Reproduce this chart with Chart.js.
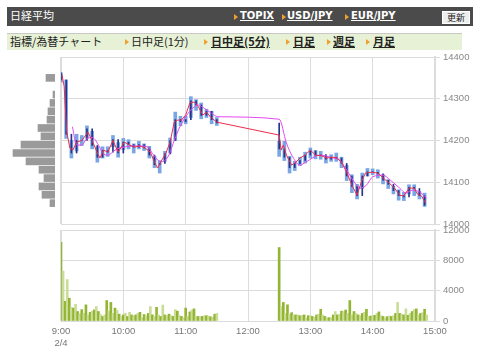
<!DOCTYPE html>
<html>
<head>
<meta charset="utf-8">
<script src="https://cdn.jsdelivr.net/npm/chart.js@4/dist/chart.umd.min.js"></script>
<style>
body { margin: 0; width: 480px; height: 355px; background: #fff; position: relative; overflow: hidden; font-family: "Noto Sans CJK JP", sans-serif; }
.hdr { position: absolute; left: 7px; top: 7px; width: 466px; height: 19px; background: #4b4b4b; }
.tabs { position: absolute; left: 7px; top: 33px; width: 455px; height: 16px; background: #e7f1d5; border-top: 1px solid #c8c8c8; }
.t { position: absolute; white-space: nowrap; line-height: 1; }
.hdr .t { color: #fff; top: 4px; }
.hdr a { font-family: "DejaVu Sans", sans-serif; font-weight: bold; font-size: 10px; text-decoration: underline; color: #fff; }
.tabs .t { color: #222; font-size: 11px; top: 2px; }
.tabs a { font-weight: bold; text-decoration: underline; color: #222; }
.tri { position: absolute; width: 0; height: 0; border-left: 4px solid #f0a030; border-top: 3px solid transparent; border-bottom: 3px solid transparent; }
.btn { position: absolute; left: 435px; top: 4px; width: 26px; height: 11px; background: #eeeeee; border: 1px solid #fff; font-size: 9px; color: #222; text-align: center; line-height: 11px; }
canvas { position: absolute; left: 0; top: 0; }
</style>
</head>
<body>
<div class="hdr">
  <span class="t" style="left:3px; top:3px; font-size:11px;">日経平均</span>
  <span class="tri" style="left:227px; top:7px;"></span><a class="t" style="left:233px;">TOPIX</a>
  <span class="tri" style="left:275px; top:7px;"></span><a class="t" style="left:280px;">USD/JPY</a>
  <span class="tri" style="left:338px; top:7px;"></span><a class="t" style="left:344px;">EUR/JPY</a>
  <div class="btn">更新</div>
</div>
<div class="tabs">
  <span class="t" style="left:3px;">指標/為替チャート</span>
  <span class="tri" style="left:118px; top:5px;"></span><span class="t" style="left:124px;">日中足(1分)</span>
  <span class="tri" style="left:197px; top:5px;"></span><a class="t" style="left:204px;">日中足(5分)</a>
  <span class="tri" style="left:279px; top:5px;"></span><a class="t" style="left:286px;">日足</a>
  <span class="tri" style="left:320px; top:5px;"></span><a class="t" style="left:326px;">週足</a>
  <span class="tri" style="left:359px; top:5px;"></span><a class="t" style="left:366px;">月足</a>
</div>
<canvas id="volChart" width="480" height="355"></canvas>
<canvas id="priceChart" width="480" height="355"></canvas>
<canvas id="profileChart" width="50" height="167" style="left:5px; top:57px;"></canvas>
<script>
// minutes after 9:00
const candleTimes = [0, 5, 10, 15, 20, 25, 30, 35, 40, 45, 50, 55, 60, 65, 70, 75, 80, 85, 90, 95, 100, 105, 110, 115, 120, 125, 130, 135, 140, 145, 150,
    210, 215, 220, 225, 230, 235, 240, 245, 250, 255, 260, 265, 270, 275, 280, 285, 290, 295, 300, 305, 310, 315, 320, 325, 330, 335, 340, 345, 350];
const candleHigh = [14362, 14345, 14200, 14215, 14212, 14235, 14222, 14185, 14185, 14185, 14212, 14195, 14205, 14202, 14192, 14198, 14192, 14186, 14162, 14152, 14174, 14206, 14268, 14258, 14258, 14305, 14298, 14290, 14275, 14270, 14255,
    14198, 14198, 14162, 14150, 14160, 14172, 14182, 14176, 14174, 14162, 14166, 14170, 14160, 14140, 14118, 14095, 14122, 14133, 14132, 14130, 14118, 14106, 14090, 14082, 14076, 14094, 14094, 14078, 14074];
const candleLow = [14340, 14205, 14158, 14175, 14188, 14205, 14180, 14148, 14158, 14162, 14185, 14160, 14178, 14180, 14170, 14180, 14176, 14158, 14135, 14122, 14150, 14170, 14200, 14235, 14240, 14255, 14272, 14252, 14255, 14240, 14236,
    14162, 14152, 14122, 14128, 14140, 14146, 14158, 14156, 14155, 14146, 14150, 14150, 14135, 14104, 14075, 14060, 14085, 14115, 14118, 14110, 14096, 14085, 14072, 14057, 14056, 14072, 14068, 14060, 14042];
const candleClose = [14345, 14215, 14170, 14200, 14200, 14228, 14188, 14160, 14176, 14172, 14202, 14170, 14196, 14190, 14184, 14190, 14182, 14165, 14142, 14145, 14168, 14200, 14250, 14245, 14250, 14295, 14285, 14260, 14270, 14250, 14242,
    14180, 14160, 14135, 14145, 14152, 14165, 14175, 14165, 14166, 14155, 14160, 14158, 14145, 14115, 14090, 14068, 14115, 14125, 14124, 14120, 14105, 14095, 14080, 14068, 14065, 14088, 14085, 14068, 14045];

const maShortTimes = [1, 3, 5.5, 8.5, 11.5, 15, 20, 26, 30, 35, 37.5, 41, 45, 50, 55, 61, 66, 71, 76, 81, 86, 90, 93, 97, 101, 105, 109, 112.5, 116, 120, 124, 128, 132, 136.5, 140, 144, 150,
    210, 212, 214, 217, 222, 226, 230, 235, 240, 245, 251, 256, 262, 266, 270, 275, 280, 285, 289, 293, 299, 305, 310, 316, 321, 326, 330, 335, 340, 343, 347, 351];
const maShortValues = [14357, 14330, 14221, 14182, 14177, 14196, 14200, 14220, 14200, 14170, 14158, 14177, 14172, 14200, 14172, 14196, 14189, 14184, 14187, 14182, 14172, 14148, 14134, 14153, 14170, 14196, 14244, 14249, 14249, 14261, 14290, 14292, 14282, 14261, 14268, 14256, 14244,
    14213, 14177, 14189, 14165, 14141, 14148, 14158, 14165, 14177, 14165, 14163, 14158, 14160, 14158, 14148, 14124, 14093, 14069, 14100, 14122, 14124, 14122, 14110, 14098, 14086, 14069, 14067, 14086, 14086, 14072, 14067, 14050];

const maLongTimes = [11, 15, 20, 25, 30, 37, 40, 45, 52, 58, 66, 74, 84, 88, 96, 103, 108, 113, 119, 125, 132, 138, 145, 151,
    210, 217, 223, 230, 236, 249, 262, 268, 275, 283, 288, 294, 300, 310, 317, 326, 332, 338, 345, 352];
const maLongValues = [14233, 14189, 14189, 14205, 14207, 14185, 14170, 14165, 14177, 14183, 14186, 14187, 14184, 14169, 14149, 14161, 14193, 14225, 14253, 14273, 14285, 14277, 14265, 14257,
    14251, 14194, 14161, 14141, 14149, 14165, 14158, 14153, 14129, 14098, 14086, 14093, 14113, 14117, 14105, 14086, 14074, 14081, 14077, 14062];

const volumeTimes = [0, 2, 4, 6, 8, 10, 12, 14, 16, 18, 20, 22, 24, 26, 28, 30, 32, 34, 36, 38, 40, 42, 44, 46, 48, 50, 52, 54, 56, 58,
    60, 62, 64, 66, 68, 70, 72, 74, 76, 78, 80, 82, 84, 86, 88, 90, 92, 94, 96, 98, 100, 102, 104, 106, 108, 110, 112, 114, 116, 118,
    120, 122, 124, 126, 128, 130, 132, 134, 136, 138, 140, 142, 144, 146, 148, 150,
    210, 212, 214, 216, 218, 220, 222, 224, 226, 228, 230, 232, 234, 236, 238, 240, 242, 244, 246, 248, 250, 252, 254, 256, 258, 260, 262, 264, 266, 268,
    270, 272, 274, 276, 278, 280, 282, 284, 286, 288, 290, 292, 294, 296, 298, 300, 302, 304, 306, 308, 310, 312, 314, 316, 318, 320, 322, 324, 326, 328,
    330, 332, 334, 336, 338, 340, 342, 344, 346, 348, 350, 352];
const volumeValues = [10360, 6580, 2600, 5470, 3000, 1800, 1700, 2200, 1250, 1000, 1500, 1030, 2130, 800, 1140, 1300, 1470, 1900, 1250, 900, 600, 800, 2700, 1300, 2450, 1000, 1700, 1400, 900, 600,
    800, 1030, 600, 1150, 800, 700, 800, 1000, 1150, 400, 850, 700, 1000, 1900, 800, 600, 1800, 800, 600, 2100, 800, 700, 900, 700, 600, 1500, 1300, 700, 600, 400,
    1700, 600, 1200, 1450, 1600, 600, 600, 600, 600, 700, 700, 650, 550, 500, 900, 1000,
    9690, 1900, 2450, 1000, 2130, 900, 1100, 800, 800, 800, 700, 700, 800, 400, 700, 700, 600, 500, 800, 900, 1550, 800, 600, 400, 450, 400, 800, 1250, 800, 900,
    1300, 1250, 1450, 1000, 2700, 800, 1250, 1000, 800, 700, 1000, 1150, 1550, 600, 650, 700, 750, 1000, 1200, 700, 600, 400, 580, 650, 600, 700, 1000, 2450, 1000, 900,
    800, 1600, 750, 1000, 1250, 1500, 1600, 800, 1000, 1100, 1550, 800];

// price-volume profile on the left
const profilePrices = [14350, 14310, 14290, 14270, 14250, 14230, 14210, 14190, 14170, 14150, 14130, 14110, 14090, 14070, 14050];
const profileSizes = [9, 2, 5, 7, 8, 17, 14, 34, 42, 29, 16, 11, 16, 13, 5];

const hourLabels = ['9:00', '10:00', '11:00', '12:00', '13:00', '14:00', '15:00'];
const dateLabel = '2/4';

const gridColor = '#dcdcdc';
const tickFont = { family: 'Liberation Sans', size: 9.5 };

// Price chart
const candleRange = candleTimes.map((t, i) => ({ x: t, y: [candleLow[i], candleHigh[i]] }));
const candleBody = candleTimes.map((t, i) => ({ x: t, y: [i > 0 ? candleClose[i - 1] : candleHigh[i], candleClose[i]] }));

new Chart(document.getElementById('priceChart'), {
    type: 'bar',
    data: {
        datasets: [
            {
                type: 'line', order: 0,
                data: maShortTimes.map((t, i) => ({ x: t, y: maShortValues[i] })),
                borderColor: '#ee2d4c', borderWidth: 1, pointRadius: 0, tension: 0
            },
            {
                type: 'line', order: 1,
                data: maLongTimes.map((t, i) => ({ x: t, y: maLongValues[i] })),
                borderColor: '#e448f0', borderWidth: 1, pointRadius: 0, cubicInterpolationMode: 'monotone'
            },
            {
                order: 2, data: candleBody, grouped: false,
                backgroundColor: '#24358a', barThickness: 1
            },
            {
                order: 3, data: candleRange, grouped: false,
                backgroundColor: '#7aa6e4', barThickness: 3
            }
        ]
    },
    options: {
        responsive: false,
        animation: false,
        layout: { padding: { left: 61, top: 57, bottom: 131, right: 0 } },
        plugins: { legend: { display: false }, tooltip: { enabled: false } },
        scales: {
            x: {
                type: 'linear', min: 0, max: 360, offset: false,
                ticks: { stepSize: 60, display: false },
                grid: { offset: false, color: gridColor, drawTicks: false, lineWidth: ctx => ctx.index === 0 ? 2 : 1 },
                border: { color: gridColor },
                afterFit: s => { s.height = 0; }
            },
            y: {
                position: 'right', min: 14000, max: 14400,
                ticks: { stepSize: 100, color: '#888', font: tickFont, padding: 3, callback: v => String(v) },
                grid: { color: gridColor, tickLength: 5 },
                border: { color: gridColor, width: 2 },
                afterFit: s => { s.width = 45; }
            }
        }
    }
});

// Volume chart
new Chart(document.getElementById('volChart'), {
    type: 'bar',
    data: {
        datasets: [{
            data: volumeTimes.map((t, i) => ({ x: t, y: volumeValues[i] })),
            backgroundColor: volumeTimes.map((t, i) => i % 2 === 0 ? '#94b534' : '#cadd98'),
            barThickness: 2
        }]
    },
    options: {
        responsive: false,
        animation: false,
        layout: { padding: { left: 61, top: 230, bottom: 0, right: 0 } },
        plugins: { legend: { display: false }, tooltip: { enabled: false } },
        scales: {
            x: {
                type: 'linear', min: 0, max: 360, offset: false,
                ticks: {
                    stepSize: 60, color: '#777', font: tickFont, padding: 5, maxRotation: 0,
                    callback: v => v === 0 ? [hourLabels[0], dateLabel] : hourLabels[v / 60]
                },
                grid: { offset: false, color: gridColor, drawTicks: false, lineWidth: ctx => ctx.index === 0 ? 2 : 1 },
                border: { color: gridColor },
                afterFit: s => { s.height = 34; }
            },
            y: {
                position: 'right', min: 0, max: 12000,
                ticks: { stepSize: 4000, color: '#888', font: tickFont, padding: 3, callback: v => String(v) },
                grid: { color: gridColor, tickLength: 5 },
                border: { color: gridColor, width: 2 },
                afterFit: s => { s.width = 45; }
            }
        }
    }
});

// Profile histogram
new Chart(document.getElementById('profileChart'), {
    type: 'bar',
    data: {
        datasets: [{
            data: profilePrices.map((p, i) => ({ x: profileSizes[i], y: p })),
            backgroundColor: '#9a9a9a',
            barThickness: 7
        }]
    },
    options: {
        indexAxis: 'y',
        responsive: false,
        animation: false,
        plugins: { legend: { display: false }, tooltip: { enabled: false } },
        scales: {
            x: { type: 'linear', reverse: true, min: 0, max: 50, display: false },
            y: { type: 'linear', min: 14000, max: 14400, offset: false, display: false }
        }
    }
});
</script>
</body>
</html>
